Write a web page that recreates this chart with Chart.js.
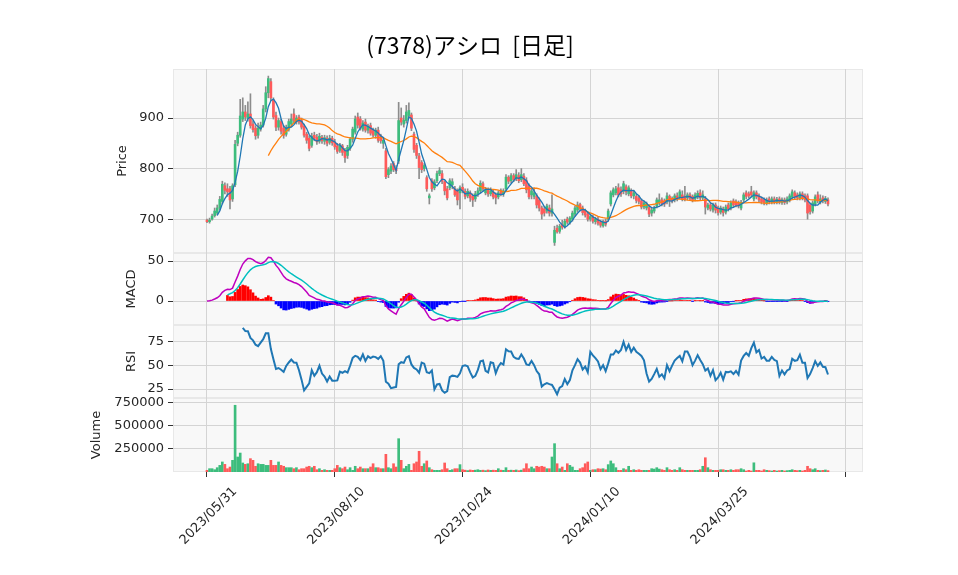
<!DOCTYPE html>
<html>
<head>
<meta charset="utf-8">
<script src="https://cdn.jsdelivr.net/npm/chart.js@4.4.1/dist/chart.umd.min.js"></script>
<style>
  body { margin: 0; background: #ffffff; }
  #wrap { position: relative; width: 958px; height: 575px; overflow: hidden; }
  canvas { position: absolute; left: 0; }
</style>
</head>
<body>
<div id="wrap">
  <canvas id="priceChart" width="958" height="265" style="top:0px"></canvas>
  <canvas id="macdChart" width="958" height="96" style="top:241px"></canvas>
  <canvas id="rsiChart" width="958" height="97" style="top:313px"></canvas>
  <canvas id="volumeChart" width="958" height="189" style="top:386px"></canvas>
</div>
<script>
/* Data (daily, index 0 = 2023/05/31) */
const chartTitle = '(7378)アシロ  [日足]';

const xTickIdx = [0, 50, 100, 150, 200, 250];
const xTickLabels = ['2023/05/31', '2023/08/10', '2023/10/24', '2024/01/10', '2024/03/25', ''];

const opens = [
  698,695,700,707,712,722,735,766,760,760, 740,768,850,866,898,912,900,908,888,880,
  866,878,886,918,950,972,936,905,882,893, 880,868,878,888,908,893,902,895,884,868,
  860,846,866,862,854,862,854,860,852,860, 852,845,836,845,835,826,840,858,872,902,
  898,878,892,876,885,875,866,876,865,850, 835,788,795,810,800,815,900,888,895,905,
  906,868,846,825,812,800,782,742,776,762, 776,790,790,774,760,762,768,760,756,752,
  763,755,746,752,745,740,750,756,770,752, 757,750,754,748,744,756,750,760,783,776,
  786,780,786,778,785,776,766,748,745,746, 738,722,720,716,722,712,654,682,676,690,
  686,700,694,700,710,718,729,722,716,710, 700,704,695,700,694,687,696,700,730,748,
  752,762,758,755,764,750,756,746,745,742, 736,724,722,723,712,716,726,732,738,736,
  734,745,740,738,746,744,748,745,742,748, 745,740,744,752,742,740,722,728,718,728,
  722,714,720,714,728,722,736,734,732,722, 738,752,750,754,740,752,746,740,738,732,
  740,734,740,734,740,733,738,734,738,744, 752,748,742,750,746,746,728,716,730,748,
  734,742,735,738
];
const highs = [
  700,702,710,722,728,745,775,772,770,765, 770,856,872,937,940,925,932,948,895,885,
  890,892,925,962,983,978,940,912,900,898, 885,886,898,908,918,905,906,900,888,872,
  865,870,872,868,870,866,866,865,866,864, 858,850,850,848,840,846,862,882,904,910,
  903,895,898,888,890,880,880,882,868,860, 840,802,810,814,806,931,920,905,925,930,
  910,872,850,830,816,810,786,750,780,778, 795,802,796,776,765,780,780,765,760,766,
  770,760,760,756,750,755,762,776,774,763, 762,762,758,752,756,760,760,788,786,790,
  790,798,792,800,790,782,770,760,762,750, 742,726,725,730,728,748,686,688,690,698,
  700,704,705,716,726,734,732,726,720,714, 710,708,704,704,698,698,700,720,756,762,
  765,770,764,775,768,766,760,756,750,746, 740,736,734,727,722,726,742,750,742,740,
  752,748,744,750,752,758,756,765,752,752, 748,752,756,758,756,745,732,732,732,732,
  726,726,724,728,732,736,740,738,736,737, 752,756,754,765,756,756,750,744,742,742,
  744,744,744,743,744,742,742,744,750,758, 756,752,754,754,750,750,732,736,748,754,
  748,746,745,742
];
const lows = [
  693,692,698,704,708,718,730,750,745,720, 735,764,845,862,893,895,894,880,872,858,
  860,874,882,912,940,935,898,875,876,868, 860,864,874,884,890,888,888,878,862,850,
  835,842,855,848,850,850,848,845,848,846, 838,830,832,826,812,820,836,852,868,880,
  876,874,872,870,866,862,860,852,850,840, 780,782,790,794,790,810,886,882,890,900,
  875,832,820,780,792,795,755,730,755,758, 772,786,770,748,738,758,760,745,728,720,
  752,740,742,735,725,735,745,752,755,748, 745,746,740,730,740,746,745,756,770,772,
  774,776,772,774,766,752,740,740,740,722, 716,700,706,712,706,706,648,672,672,680,
  682,690,690,696,706,714,716,708,704,696, 696,692,690,688,684,684,686,696,726,744,
  748,744,745,750,748,746,742,740,732,730, 720,720,718,705,706,712,722,728,726,725,
  730,725,732,734,736,740,736,736,738,737, 734,736,740,738,738,710,718,716,714,712,
  708,710,706,710,716,718,724,724,722,718, 734,740,742,744,736,740,734,730,728,728,
  730,730,730,730,730,729,729,730,734,740, 740,738,738,738,734,700,710,712,726,732,
  730,732,731,726
];
const closes = [
  695,698,706,716,722,739,769,757,754,738, 766,848,866,904,912,902,908,885,877,865,
  880,886,918,950,978,940,902,882,895,874, 866,880,893,898,895,900,892,882,866,856,
  840,864,860,853,864,855,861,850,860,851, 843,834,846,832,822,842,858,878,898,886,
  880,890,876,884,870,866,876,856,855,856, 784,798,805,798,796,895,892,896,912,915,
  880,838,826,802,798,806,760,746,760,774, 790,796,775,756,742,776,774,748,738,762,
  756,745,755,742,738,750,756,771,760,758, 750,756,744,742,752,750,756,783,775,786,
  778,788,776,788,770,758,744,756,752,728, 722,710,712,726,712,720,678,675,686,684,
  696,694,702,712,722,728,720,713,708,700, 705,696,700,692,688,694,690,716,752,758,
  760,748,750,770,754,762,746,752,737,735, 724,732,730,710,718,722,738,738,730,730,
  746,737,736,746,740,754,740,740,748,741, 738,748,751,742,748,724,728,720,728,718,
  713,722,713,724,720,732,728,728,726,733, 748,745,746,748,752,744,738,734,732,738,
  734,740,734,739,734,738,733,740,746,754, 745,742,750,742,738,712,715,732,744,736,
  740,736,741,730
];
const volumes = [
  18000,36000,36000,25000,47000,72000,109000,83000,36000,54000,
  127000,725000,163000,206000,98000,83000,90000,145000,127000,62000,
  90000,83000,83000,72000,72000,127000,72000,72000,109000,72000,
  62000,47000,47000,47000,36000,47000,25000,36000,36000,54000,
  62000,47000,62000,25000,36000,18000,25000,18000,18000,18000,
  36000,72000,47000,36000,54000,25000,47000,18000,62000,36000,
  54000,36000,36000,36000,54000,90000,47000,47000,36000,36000,
  192000,47000,36000,90000,54000,362000,127000,36000,62000,83000,
  18000,90000,109000,225000,62000,90000,120000,47000,25000,18000,
  18000,18000,25000,98000,36000,18000,25000,36000,36000,80000,
  25000,20000,15000,22000,18000,20000,25000,18000,20000,15000,
  22000,18000,20000,18000,36000,20000,18000,47000,18000,20000,
  18000,22000,15000,20000,36000,90000,36000,54000,36000,62000,
  54000,62000,54000,36000,36000,163000,308000,90000,36000,54000,
  18000,90000,72000,54000,18000,18000,36000,47000,90000,109000,
  18000,25000,25000,36000,32000,36000,25000,80000,120000,90000,
  47000,18000,18000,36000,25000,62000,18000,25000,18000,25000,
  18000,18000,18000,18000,36000,32000,47000,32000,25000,18000,
  47000,25000,18000,25000,18000,47000,25000,18000,18000,18000,
  18000,18000,18000,25000,62000,155000,47000,25000,18000,18000,
  18000,25000,25000,18000,18000,25000,18000,25000,25000,36000,
  25000,11000,18000,11000,100000,18000,18000,11000,25000,18000,
  15000,11000,18000,11000,15000,18000,11000,15000,18000,25000,
  18000,15000,18000,11000,18000,62000,36000,25000,36000,18000,
  15000,18000,22000,15000
];

/* Style */
const upColor = '#3dbd7d';
const downColor = '#ff5a5a';
const wickColor = '#8c8c8c';
const gridColor = '#d4d4d4';
const panelColor = '#f8f8f8';
const textColor = '#262626';
const xMin = -13.3;
const xMax = 256.7;

Chart.defaults.font.family = '"DejaVu Sans", sans-serif';
Chart.defaults.font.size = 13;
Chart.defaults.color = textColor;

/* Indicators computed from the closes (same way the original chart does) */
function sma(arr, n) {
  return arr.map((_, i) => {
    if (i < n - 1) return null;
    let s = 0;
    for (let k = i - n + 1; k <= i; k++) s += arr[k];
    return s / n;
  });
}
function ema(arr, n) {
  const k = 2 / (n + 1);
  const out = [];
  arr.forEach((v, i) => out.push(i === 0 ? v : v * k + out[i - 1] * (1 - k)));
  return out;
}
function rsi(arr, n) {
  const out = arr.map(() => null);
  for (let i = n; i < arr.length; i++) {
    let up = 0, down = 0;
    for (let k = i - n + 1; k <= i; k++) {
      const d = arr[k] - arr[k - 1];
      if (d > 0) up += d; else down -= d;
    }
    out[i] = up + down === 0 ? 50 : 100 * up / (up + down);
  }
  return out;
}

const ma5 = sma(closes, 5);
const ma25 = sma(closes, 25);
const ema12 = ema(closes, 12);
const ema26 = ema(closes, 26);
const macd = ema12.map((v, i) => v - ema26[i]);
const signalFull = ema(macd, 9);
const signal = signalFull.map((v, i) => (i < 8 ? null : v));
const hist = macd.map((v, i) => (i < 8 ? null : v - signalFull[i]));
const rsi14 = rsi(closes, 14);

const isUp = closes.map((c, i) => c >= opens[i]);

// turn a value array into {x, y} points, skipping empty ones
function toPoints(arr) {
  const pts = [];
  arr.forEach((v, i) => { if (v !== null) pts.push({ x: i, y: v }); });
  return pts;
}

/* Plugins */
const panelBg = {
  id: 'panelBg',
  beforeDraw(chart) {
    const { ctx, chartArea: a } = chart;
    ctx.save();
    ctx.fillStyle = panelColor;
    ctx.fillRect(a.left, a.top, a.right - a.left, a.bottom - a.top);
    ctx.strokeStyle = '#e8e8e8';
    ctx.lineWidth = 1;
    ctx.strokeRect(a.left + 0.5, a.top + 0.5, a.right - a.left - 1, a.bottom - a.top - 1);
    ctx.restore();
  }
};

const titlePlugin = {
  id: 'titleText',
  afterDraw(chart) {
    const ctx = chart.ctx;
    ctx.save();
    ctx.font = '23px "Noto Sans CJK JP", "DejaVu Sans", sans-serif';
    ctx.fillStyle = '#000000';
    ctx.textAlign = 'center';
    ctx.textBaseline = 'middle';
    ctx.fillText(chartTitle, 470, 45);
    ctx.restore();
  }
};

/* Axes */
function xAxis(showLabels) {
  return {
    type: 'linear',
    min: xMin,
    max: xMax,
    offset: false,
    afterBuildTicks: s => { s.ticks = xTickIdx.map(v => ({ value: v })); },
    afterFit: s => { s.height = showLabels ? 103 : 0; },
    ticks: {
      display: showLabels,
      autoSkip: false,
      minRotation: 45,
      maxRotation: 45,
      padding: 7,
      labelOffset: 28,
      color: textColor,
      font: { size: 13 },
      callback: v => xTickLabels[xTickIdx.indexOf(v)]
    },
    grid: { offset: false, color: gridColor, drawTicks: showLabels, tickLength: 5, tickColor: '#333333' },
    border: { display: false }
  };
}

function yAxis(min, max, ticks, title, width) {
  return {
    position: 'left',
    min: min,
    max: max,
    afterBuildTicks: s => { s.ticks = ticks.map(v => ({ value: v })); },
    afterFit: s => { s.width = width; },
    ticks: { color: textColor, padding: 4, font: { size: 13 }, callback: v => String(v) },
    grid: { color: gridColor, tickLength: 5, tickColor: '#333333' },
    border: { display: false },
    title: { display: true, text: title, color: textColor, font: { size: 13 }, padding: 0 }
  };
}

function baseOptions(padLeft, padTop, padBottom, scales) {
  return {
    responsive: false,
    animation: false,
    devicePixelRatio: 1,
    events: [],
    layout: { padding: { left: padLeft, right: 95, top: padTop, bottom: padBottom } },
    plugins: { legend: { display: false }, tooltip: { enabled: false } },
    scales: scales
  };
}

/* Price panel: candles + moving averages */
new Chart(document.getElementById('priceChart').getContext('2d'), {
  type: 'bar',
  data: {
    datasets: [
      {
        type: 'bar',
        label: 'wick',
        data: highs.map((h, i) => ({ x: i, y: [lows[i], h] })),
        backgroundColor: wickColor,
        barThickness: 1,
        grouped: false,
        order: 3
      },
      {
        type: 'bar',
        label: 'body',
        data: opens.map((o, i) => ({ x: i, y: [o, closes[i]] })),
        backgroundColor: isUp.map(u => (u ? upColor : downColor)),
        barThickness: 2,
        minBarLength: 1,
        grouped: false,
        order: 2
      },
      {
        type: 'line',
        label: 'MA25',
        data: toPoints(ma25),
        borderColor: '#ff7f0e',
        borderWidth: 1.3,
        pointRadius: 0,
        tension: 0,
        order: 1
      },
      {
        type: 'line',
        label: 'MA5',
        data: toPoints(ma5),
        borderColor: '#1f77b4',
        borderWidth: 1.3,
        pointRadius: 0,
        tension: 0,
        order: 0
      }
    ]
  },
  options: baseOptions(115, 69, 12, {
    x: xAxis(false),
    y: yAxis(633, 997, [700, 800, 900], 'Price', 58)
  }),
  plugins: [panelBg, titlePlugin]
});

/* MACD panel */
new Chart(document.getElementById('macdChart').getContext('2d'), {
  type: 'bar',
  data: {
    datasets: [
      {
        type: 'bar',
        label: 'hist',
        data: toPoints(hist),
        backgroundColor: toPoints(hist).map(p => (p.y >= 0 ? '#ff0000' : '#0000ff')),
        barThickness: 2,
        grouped: false,
        order: 2
      },
      {
        type: 'line',
        label: 'MACD',
        data: toPoints(macd),
        borderColor: '#bf00bf',
        borderWidth: 1.5,
        pointRadius: 0,
        order: 1
      },
      {
        type: 'line',
        label: 'Signal',
        data: toPoints(signal),
        borderColor: '#00bfbf',
        borderWidth: 1.5,
        pointRadius: 0,
        order: 0
      }
    ]
  },
  options: baseOptions(124, 12, 12, {
    x: xAxis(false),
    y: yAxis(-30, 60, [0, 50], 'MACD', 49)
  }),
  plugins: [panelBg]
});

/* RSI panel */
new Chart(document.getElementById('rsiChart').getContext('2d'), {
  type: 'line',
  data: {
    datasets: [
      {
        label: 'RSI',
        data: toPoints(rsi14),
        borderColor: '#1f77b4',
        borderWidth: 2,
        pointRadius: 0,
        tension: 0
      }
    ]
  },
  options: baseOptions(124, 12, 12, {
    x: xAxis(false),
    y: yAxis(15.6, 92, [25, 50, 75], 'RSI', 49)
  }),
  plugins: [panelBg]
});

/* Volume panel */
new Chart(document.getElementById('volumeChart').getContext('2d'), {
  type: 'bar',
  data: {
    datasets: [
      {
        label: 'Volume',
        data: volumes.map((v, i) => ({ x: i, y: v })),
        backgroundColor: isUp.map(u => (u ? upColor : downColor)),
        barThickness: 2,
        grouped: false
      }
    ]
  },
  options: baseOptions(89, 12, 0, {
    x: xAxis(true),
    y: yAxis(0, 804000, [250000, 500000, 750000], 'Volume', 84)
  }),
  plugins: [panelBg]
});
</script>
</body>
</html>
